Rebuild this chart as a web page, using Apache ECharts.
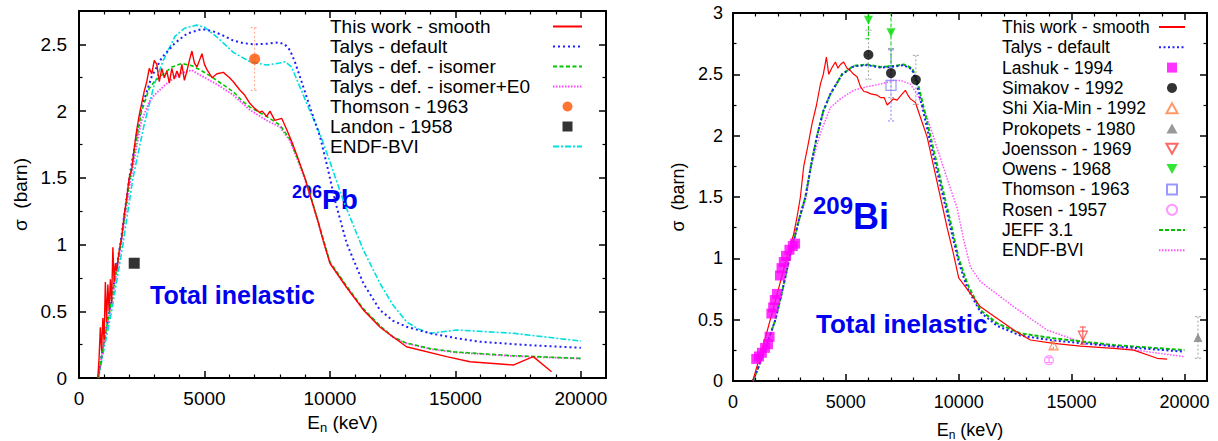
<!DOCTYPE html>
<html><head><meta charset="utf-8">
<script src="https://cdn.jsdelivr.net/npm/echarts@6/dist/echarts.min.js"></script>
<style>
html,body{margin:0;padding:0;background:#fff;overflow:hidden}
#wrap{position:relative;width:1218px;height:441px}
#left{position:absolute;left:0;top:0;width:609px;height:441px}
#right{position:absolute;left:609px;top:0;width:609px;height:441px}
</style></head>
<body><div id="wrap"><div id="left"></div><div id="right"></div></div>
<script>
// ---------------- DATA : 206Pb (left panel) ----------------
const pbXTicks = [0, 5000, 10000, 15000, 20000];
const pbYTicks = [0, 0.5, 1, 1.5, 2, 2.5];
const pbThisWork = [[750,0],[800,0.15],[850,0.38],[900,0.2],[950,0.45],[1000,0.28],[1050,0.72],[1100,0.42],[1150,0.7],[1200,0.5],[1250,0.74],[1300,0.56],[1350,0.98],[1400,0.72],[1450,0.86],[1500,0.8],[1600,0.95],[1700,1.05],[1800,1.22],[1900,1.35],[2000,1.5],[2100,1.56],[2200,1.72],[2300,1.86],[2400,1.97],[2500,2.06],[2600,2.15],[2700,2.22],[2800,2.32],[2900,2.28],[3000,2.38],[3100,2.35],[3200,2.22],[3300,2.32],[3400,2.25],[3500,2.3],[3600,2.21],[3700,2.32],[3800,2.24],[3900,2.3],[4000,2.25],[4100,2.35],[4200,2.23],[4300,2.3],[4400,2.38],[4500,2.45],[4600,2.36],[4700,2.33],[4800,2.38],[4900,2.43],[5000,2.35],[5100,2.31],[5300,2.25],[5500,2.28],[5750,2.29],[6000,2.25],[6150,2.22],[6400,2.16],[6600,2.12],[6800,2.06],[7000,2.02],[7200,1.99],[7300,2.0],[7480,1.96],[7610,2.0],[7800,1.93],[8080,1.945],[8280,1.86],[8500,1.76],[8700,1.66],[9000,1.5],[9270,1.33],[9500,1.19],[9730,1.03],[10000,0.86],[10660,0.68],[11330,0.51],[12000,0.38],[13050,0.234],[14650,0.16],[15580,0.122],[17300,0.097],[18100,0.16],[18830,0.047]];
const pbTalysDefault = [[760,0],[1000,0.28],[1240,0.53],[1660,1.02],[2030,1.53],[2480,2.02],[2900,2.26],[3300,2.4],[3825,2.51],[4300,2.58],[4890,2.615],[5300,2.6],[5700,2.57],[6135,2.53],[6540,2.51],[6944,2.5],[7500,2.505],[7940,2.515],[8200,2.5],[8406,2.457],[8600,2.37],[8805,2.257],[9203,2.03],[9602,1.81],[9900,1.58],[10199,1.33],[10665,1.01],[11328,0.71],[11992,0.51],[12500,0.43],[13054,0.384],[13984,0.335],[15000,0.3],[15976,0.272],[18000,0.245],[20000,0.227]];
const pbTalysIsomer = [[760,0],[1000,0.28],[1240,0.52],[1660,1.0],[2030,1.5],[2480,1.99],[2800,2.17],[3000,2.22],[3300,2.27],[3700,2.33],[4090,2.357],[4500,2.34],[4820,2.31],[5285,2.257],[5485,2.23],[6148,2.145],[6480,2.08],[6813,2.03],[7477,1.96],[8008,1.895],[8400,1.79],[8700,1.65],[9000,1.5],[9270,1.34],[9734,1.04],[10000,0.87],[10664,0.69],[11328,0.52],[12000,0.39],[12500,0.31],[13000,0.265],[14000,0.22],[15000,0.195],[17300,0.167],[20000,0.147]];
const pbTalysIsomerE0 = [[760,0],[1000,0.27],[1240,0.5],[1660,0.98],[2030,1.46],[2480,1.92],[2800,2.07],[3000,2.12],[3426,2.195],[4000,2.28],[4490,2.307],[4821,2.27],[5500,2.2],[6148,2.12],[6800,2.01],[7477,1.93],[8008,1.88],[8400,1.78],[8700,1.64],[9000,1.49],[9270,1.33],[9734,1.03],[10000,0.86],[10664,0.68],[11328,0.515],[12000,0.385],[12500,0.305],[13000,0.262],[14000,0.217],[15000,0.192],[17300,0.164],[20000,0.145]];
const pbEndf = [[780,0],[1000,0.22],[1300,0.5],[1750,1.0],[2150,1.5],[2600,1.9],[3000,2.2],[3360,2.38],[3825,2.56],[4200,2.62],[4690,2.644],[5000,2.63],[5485,2.557],[6148,2.44],[6813,2.37],[7477,2.345],[8000,2.36],[8207,2.37],[8473,2.33],[8805,2.18],[9203,2.0],[9600,1.83],[10000,1.62],[10531,1.33],[11328,0.96],[11992,0.71],[12500,0.55],[13055,0.42],[13500,0.37],[13984,0.335],[15046,0.36],[17304,0.335],[20000,0.277]];
const pbThomson = [[7000, 2.39, 0.235]];   // [E, sigma, error]
const pbLandon = [[2200, 0.86]];

// ---------------- DATA : 209Bi (right panel) ----------------
const biXTicks = [0, 5000, 10000, 15000, 20000];
const biYTicks = [0, 0.5, 1, 1.5, 2, 2.5, 3];
const biThisWork = [[880,0],[1000,0.08],[1400,0.33],[1800,0.6],[2200,0.88],[2690,1.2],[2850,1.35],[2986,1.5],[3133,1.75],[3300,1.9],[3505,2.1],[3700,2.25],[3872,2.42],[4000,2.5],[4138,2.64],[4241,2.5],[4400,2.56],[4537,2.6],[4650,2.55],[4759,2.58],[4900,2.6],[5055,2.55],[5200,2.53],[5348,2.5],[5500,2.48],[5645,2.4],[5800,2.36],[5941,2.355],[6100,2.34],[6385,2.33],[6550,2.31],[6700,2.31],[6828,2.25],[6950,2.27],[7100,2.3],[7271,2.29],[7450,2.33],[7638,2.37],[7750,2.33],[7860,2.3],[8081,2.27],[8303,2.15],[8600,1.99],[8893,1.745],[9189,1.5],[9486,1.25],[9750,1.05],[10000,0.84],[10962,0.605],[12437,0.415],[13177,0.334],[14210,0.307],[15392,0.285],[16868,0.266],[17754,0.252],[18790,0.185],[19233,0.179]];
const biTalysDefault = [[880,0],[1100,0.1],[1500,0.3],[1879,0.5],[2200,0.75],[2499,1.0],[2900,1.3],[3208,1.5],[3500,1.8],[3726,2.0],[4000,2.2],[4316,2.34],[4834,2.5],[5348,2.565],[5941,2.575],[6531,2.555],[7000,2.56],[7564,2.575],[7935,2.54],[8100,2.45],[8400,2.22],[8850,1.86],[9300,1.51],[9600,1.28],[9750,1.16],[10000,0.97],[10350,0.77],[10962,0.56],[11701,0.45],[12734,0.37],[14210,0.33],[16868,0.283],[20000,0.239]];
const biJeff = [[880,0],[1100,0.1],[1500,0.3],[1879,0.5],[2200,0.75],[2499,1.0],[2900,1.3],[3208,1.5],[3500,1.8],[3726,2.0],[4000,2.2],[4316,2.34],[4834,2.5],[5348,2.57],[5941,2.58],[6531,2.56],[7000,2.565],[7564,2.58],[7935,2.55],[8157,2.45],[8449,2.23],[8893,1.88],[9336,1.53],[9632,1.3],[9779,1.18],[10000,1.0],[10372,0.796],[10962,0.578],[11701,0.47],[12734,0.388],[14210,0.348],[16868,0.293],[20000,0.252]];
const biEndf = [[880,0],[1100,0.1],[1500,0.3],[1879,0.5],[2200,0.75],[2499,1.0],[2900,1.29],[3252,1.5],[3429,1.73],[3872,2.02],[4316,2.23],[4759,2.3],[5348,2.37],[5941,2.4],[6531,2.42],[7122,2.45],[7418,2.45],[7860,2.42],[8157,2.34],[8600,2.15],[9043,1.9],[9486,1.65],[9929,1.41],[10222,1.15],[10518,0.93],[10962,0.81],[12437,0.605],[13917,0.415],[15392,0.32],[16868,0.28],[18347,0.239],[20000,0.198]];
const biLashuk = [[1030,0.18],[1150,0.2],[1280,0.23],[1420,0.27],[1550,0.3],[1620,0.36],[1700,0.55],[1780,0.6],[1850,0.66],[1950,0.71],[2080,0.86],[2150,0.92],[2250,0.97],[2350,1.02],[2500,1.07],[2650,1.1],[2750,1.12]];
const biSimakov = [[6000,2.66,0.2],[7000,2.51,0.2],[8100,2.455,0.2]];
const biShiXiaMin = [[14200,0.29,0.03]];
const biProkopets = [[20600,0.355,0.17]];
const biJoensson = [[15500,0.37,0.07]];
const biOwens = [[6000,2.94,0.15],[7000,2.84,0.27]];
const biThomson = [[7000,2.41,0.29]];
const biRosen = [[14000,0.17,0.02]];

// ---------------- helpers ----------------
const FONT = 'Liberation Sans';
const SQ = 'path://M0 0H10V10H0Z';
const TRI_UP = 'path://M5 0L10 9L0 9Z';
const TRI_DN = 'path://M0 0L10 0L5 9Z';
const NO_SYM = {color:'rgba(0,0,0,0)', borderWidth:0, opacity:0};

function lineSeries(name, data, color, width, dash) {
  return {type:'line', name, data, showSymbol:false, symbol:'none', animation:false, silent:true,
    lineStyle:{color, width, type: dash || 'solid'}, itemStyle:{color}, z:2};
}
function scatterSeries(name, data, symbol, size, color, filled, rotate) {
  return {type:'scatter', name, data: data.map(d => [d[0], d[1]]), symbol, symbolSize:size,
    symbolRotate: rotate || 0, animation:false, silent:true, z:6,
    itemStyle: filled ? {color} : {color:'rgba(255,255,255,0)', borderColor:color, borderWidth:1.2}};
}
function errSeries(name, data, color, dash, cap) {
  return {type:'custom', name, data, clip:true, silent:true, animation:false, z:4,
    encode:{x:0, y:1},
    renderItem(params, api) {
      const x = api.value(0), y = api.value(1), e = api.value(2);
      const t = api.coord([x, y + e]), b = api.coord([x, y - e]);
      const st = {stroke:color, lineWidth:1, lineDash: dash};
      return {type:'group', children:[
        {type:'line', shape:{x1:t[0], y1:t[1], x2:b[0], y2:b[1]}, style:st},
        {type:'line', shape:{x1:t[0]-cap, y1:t[1], x2:t[0]+cap, y2:t[1]}, style:st},
        {type:'line', shape:{x1:b[0]-cap, y1:b[1], x2:b[0]+cap, y2:b[1]}, style:st}
      ]};
    }};
}
function valueAxis(ticks, max, minorSplit, pos, showLabel, fs, margin, showMax) {
  const interval = ticks[1] - ticks[0];
  return {type:'value', position:pos, min:ticks[0], max, interval,
    axisLine:{show:true, onZero:false, lineStyle:{color:'#000', width:2}},
    axisTick:{show:true, inside:true, length:7, lineStyle:{color:'#000', width:1.5}},
    minorTick:{show:true, splitNumber:minorSplit, length:3.5, lineStyle:{color:'#000', width:1.2}},
    splitLine:{show:false}, minorSplitLine:{show:false},
    axisLabel:{show:showLabel, color:'#000', fontSize:fs, fontFamily:FONT, margin,
      showMaxLabel: showMax, formatter: v => String(v)}};
}
function legendCfg(left, top, fs, gap, textW, iconW, names) {
  return {orient:'vertical', left, top, padding:0, itemGap:gap, itemWidth:iconW, itemHeight:10,
    align:'right', selectedMode:false, symbolKeepAspect:true,
    formatter: n => '{t|' + n + '}',
    textStyle:{fontSize:fs, color:'#000', fontFamily:FONT, width:textW,
      rich:{t:{fontSize:fs, color:'#000', fontFamily:FONT, align:'left'}}},
    data: names};
}
function lineItem(name) { return {name, itemStyle: NO_SYM}; }

// ---------------- LEFT: 206Pb ----------------
const left = echarts.init(document.getElementById('left'), null, {renderer:'svg'});
left.setOption({
  animation:false,
  textStyle:{fontFamily:FONT},
  grid:{left:79, right:3, top:11, bottom:63, containLabel:false, outerBoundsMode:'none'},
  xAxis:[
    Object.assign(valueAxis(pbXTicks, 21000, 5, 'bottom', true, 19, 11, false), {
      name:'{n|E}{s|n}{n| (keV)}', nameLocation:'middle', nameGap:30,
      nameTextStyle:{rich:{n:{fontSize:19, color:'#000', fontFamily:FONT}, s:{fontSize:13, color:'#000', fontFamily:FONT, padding:[10,0,0,0]}}}}),
    valueAxis(pbXTicks, 21000, 5, 'top', false, 19, 11, false)
  ],
  yAxis:[
    Object.assign(valueAxis(pbYTicks, 2.75, 2, 'left', true, 19, 12, false), {
      name:'σ  (barn)', nameLocation:'middle', nameGap:49, nameRotate:90,
      nameTextStyle:{fontSize:19, color:'#000', fontFamily:FONT}}),
    valueAxis(pbYTicks, 2.75, 2, 'right', false, 19, 12, false)
  ],
  legend: legendCfg(330, 17, 19, 1, 218, 29, [
    lineItem('This work - smooth'), lineItem('Talys - default'), lineItem('Talys - def. - isomer'),
    lineItem('Talys - def. - isomer+E0'), {name:'Thomson - 1963', icon:'circle'},
    {name:'Landon - 1958', icon:SQ}, lineItem('ENDF-BVI')]),
  graphic:[
    {type:'text', x:150, y:295, style:{text:'Total inelastic', fontSize:25, fontWeight:'bold', fontFamily:FONT, fill:'#0000f0', verticalAlign:'middle'}},
    {type:'text', x:292, y:199, style:{text:'{a|206}{b|Pb}', verticalAlign:'middle',
      rich:{a:{fontSize:18, fontWeight:'bold', fontFamily:FONT, fill:'#0000f0', lineHeight:18, verticalAlign:'top'},
            b:{fontSize:28, fontWeight:'bold', fontFamily:FONT, fill:'#0000f0', lineHeight:32, verticalAlign:'middle'}}}}
  ],
  series:[
    lineSeries('ENDF-BVI', pbEndf, '#00e0e0', 1.6, [6,2,2,2]),
    lineSeries('Talys - default', pbTalysDefault, '#2020ff', 2, [2,3]),
    lineSeries('Talys - def. - isomer+E0', pbTalysIsomerE0, '#ff40ff', 1.8, [1.5,1.5]),
    lineSeries('Talys - def. - isomer', pbTalysIsomer, '#00c800', 1.6, [4,2.5]),
    lineSeries('This work - smooth', pbThisWork, '#ff0000', 1.4),
    errSeries('Thomson - 1963 err', pbThomson, '#ffa080', [2,2], 4),
    scatterSeries('Thomson - 1963', pbThomson, 'circle', 11, '#ff5000', true),
    scatterSeries('Landon - 1958', pbLandon, 'rect', 11, '#000000', true)
  ]
});

// ---------------- RIGHT: 209Bi ----------------
const right = echarts.init(document.getElementById('right'), null, {renderer:'svg'});
right.setOption({
  animation:false,
  textStyle:{fontFamily:FONT},
  grid:{left:124, right:11, top:13, bottom:60, containLabel:false, outerBoundsMode:'none'},
  xAxis:[
    Object.assign(valueAxis(biXTicks, 21000, 5, 'bottom', true, 18, 12, false), {
      name:'{n|E}{s|n}{n| (keV)}', nameLocation:'middle', nameGap:38,
      nameTextStyle:{rich:{n:{fontSize:18, color:'#000', fontFamily:FONT}, s:{fontSize:12, color:'#000', fontFamily:FONT, padding:[10,0,0,0]}}}}),
    valueAxis(biXTicks, 21000, 5, 'top', false, 18, 12, false)
  ],
  yAxis:[
    Object.assign(valueAxis(biYTicks, 3, 2, 'left', true, 18, 10, true), {
      name:'σ  (barn)', nameLocation:'middle', nameGap:44, nameRotate:90,
      nameTextStyle:{fontSize:18, color:'#000', fontFamily:FONT}}),
    valueAxis(biYTicks, 3, 2, 'right', false, 18, 10, true)
  ],
  legend: legendCfg(393, 18, 17.5, 2.3, 152, 26, [
    lineItem('This work - smooth'), lineItem('Talys - default'),
    {name:'Lashuk - 1994', icon:SQ}, {name:'Simakov - 1992', icon:'circle'},
    {name:'Shi Xia-Min - 1992', icon:TRI_UP}, {name:'Prokopets - 1980', icon:TRI_UP},
    {name:'Joensson - 1969', icon:TRI_DN}, {name:'Owens - 1968', icon:TRI_DN},
    {name:'Thomson - 1963', icon:SQ}, {name:'Rosen - 1957', icon:'circle'},
    lineItem('JEFF 3.1'), lineItem('ENDF-BVI')]),
  graphic:[
    {type:'text', x:207, y:324, style:{text:'Total inelastic', fontSize:26, fontWeight:'bold', fontFamily:FONT, fill:'#0000f0', verticalAlign:'middle'}},
    {type:'text', x:204, y:216, style:{text:'{a|209}{b|Bi}', verticalAlign:'middle',
      rich:{a:{fontSize:24, fontWeight:'bold', fontFamily:FONT, fill:'#0000f0', lineHeight:24, verticalAlign:'top'},
            b:{fontSize:36, fontWeight:'bold', fontFamily:FONT, fill:'#0000f0', lineHeight:46, verticalAlign:'middle'}}}}
  ],
  series:[
    lineSeries('ENDF-BVI', biEndf, '#ff50ff', 1.5, [1.5,1.5]),
    lineSeries('JEFF 3.1', biJeff, '#00c000', 2, [4,2]),
    lineSeries('Talys - default', biTalysDefault, '#2020ff', 2, [2,2.5]),
    lineSeries('This work - smooth', biThisWork, '#ff0000', 1.2),
    errSeries('Simakov err', biSimakov, '#a0a0a0', [2,2], 3),
    errSeries('Owens err', biOwens, '#00d000', [4,2], 3),
    errSeries('Thomson err', biThomson, '#8080ff', [2,2], 3),
    errSeries('Shi err', biShiXiaMin, '#ff8040', [3,2], 3),
    errSeries('Prokopets err', biProkopets, '#a0a0a0', [2,2], 3),
    errSeries('Joensson err', biJoensson, '#ff4040', null, 3),
    errSeries('Rosen err', biRosen, '#ff80ff', null, 3),
    scatterSeries('Lashuk - 1994', biLashuk, 'rect', 10, '#ff00ff', true),
    scatterSeries('Simakov - 1992', biSimakov, 'circle', 10, '#000000', true),
    scatterSeries('Shi Xia-Min - 1992', biShiXiaMin, 'triangle', 9, '#ff8040', false),
    scatterSeries('Prokopets - 1980', biProkopets, 'triangle', 9, '#808080', true),
    scatterSeries('Joensson - 1969', biJoensson, 'triangle', 9, '#ff4040', false, 180),
    scatterSeries('Owens - 1968', biOwens, 'triangle', 9, '#00e000', true, 180),
    scatterSeries('Thomson - 1963', biThomson, 'rect', 10, '#8080ff', false),
    scatterSeries('Rosen - 1957', biRosen, 'circle', 9, '#ff80ff', false)
  ]
});
</script>
</body></html>
